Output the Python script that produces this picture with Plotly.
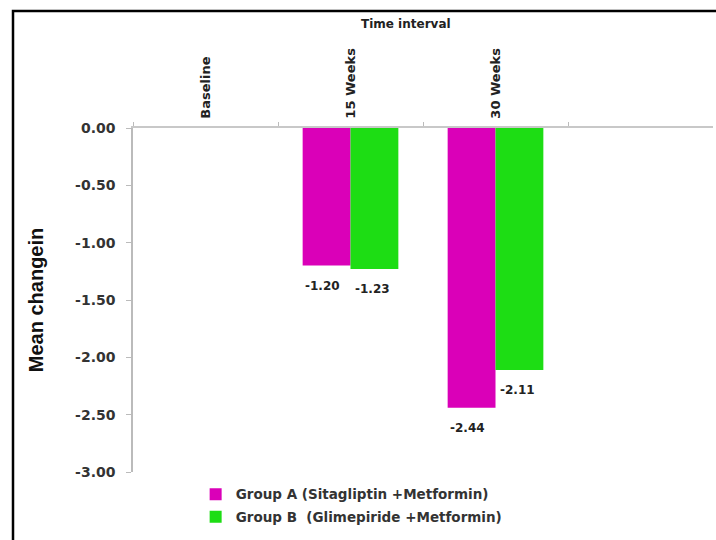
import plotly.graph_objects as go

categories = ["Baseline", "15 Weeks", "30 Weeks"]
group_a = [None, -1.20, -2.44]
group_b = [None, -1.23, -2.11]
series_names = ["Group A (Sitagliptin +Metformin)", "Group B  (Glimepiride +Metformin)"]
y_ticks = [0, -0.5, -1.0, -1.5, -2.0, -2.5, -3.0]
y_ticklabels = ["0.00", "-0.50", "-1.00", "-1.50", "-2.00", "-2.50", "-3.00"]

FONT = "DejaVu Sans"
BOLD = dict(family=FONT, weight="bold")

fig = go.Figure()
annotations = []
for name, vals, col, grp, shift in [(series_names[0], group_a, "#DA00B8", "a", -28),
                                    (series_names[1], group_b, "#1DDD14", "b", 22)]:
    fig.add_trace(go.Bar(
        x=categories, y=vals, name=name, legendgroup=grp,
        marker=dict(color=col, line=dict(width=0)),
    ))
    for c, v in zip(categories, vals):
        if v is None:
            continue
        annotations.append(dict(x=c, y=v, xref="x", yref="y", text="%.2f" % v,
                                showarrow=False, xshift=shift, yshift=-20,
                                xanchor="center", yanchor="middle",
                                font=dict(size=12, color="#222222", **BOLD)))

annotations.append(dict(text="Time interval", xref="paper", yref="paper",
                        x=(406 - 133) / 580, y=(472 - 24) / 344, xanchor="center", yanchor="middle",
                        showarrow=False, font=dict(size=12, color="#222222", **BOLD)))

fig.update_layout(
    width=716, height=540,
    margin=dict(l=133, r=3, t=128, b=68),
    paper_bgcolor="white", plot_bgcolor="white",
    barmode="group", bargap=0.34, bargroupgap=0,
    showlegend=True,
    legend=dict(orientation="v", x=0.108, y=-0.02, xanchor="left", yanchor="top",
                font=dict(size=13.5, color="#333333", **BOLD),
                tracegroupgap=2, bgcolor="rgba(0,0,0,0)",
                itemwidth=30),
    xaxis=dict(side="top", type="category", categoryorder="array", categoryarray=categories,
               range=[-0.5, 3.5], tickangle=-90, tickson="boundaries",
               ticks="outside", ticklen=4, tickcolor="#bbbbbb",
               ticklabelstandoff=5,
               showline=True, linecolor="#c8c8c8", linewidth=1.5,
               showgrid=False, zeroline=False,
               tickfont=dict(size=13, color="#222222", **BOLD)),
    yaxis=dict(range=[-3.0, 0.0], tickvals=y_ticks, ticktext=y_ticklabels,
               ticks="outside", ticklen=5, tickcolor="#bbbbbb",
               ticklabelstandoff=8,
               showline=True, linecolor="#bbbbbb", linewidth=1.5,
               showgrid=False, zeroline=False,
               tickfont=dict(size=14, color="#333333", **BOLD),
               title=dict(text="Mean changein", standoff=26,
                          font=dict(size=20, color="#111111", family="Liberation Sans", weight="bold"))),
    annotations=annotations,
    shapes=[
        dict(type="rect", xref="paper", yref="paper",
             x0=(13 - 133) / 580, x1=(800 - 133) / 580, y0=(472 - 11) / 344, y1=(472 - 620) / 344,
             line=dict(color="black", width=2.5), fillcolor="rgba(0,0,0,0)"),
    ],
)

fig.write_html("out.html", config={"displayModeBar": False})
